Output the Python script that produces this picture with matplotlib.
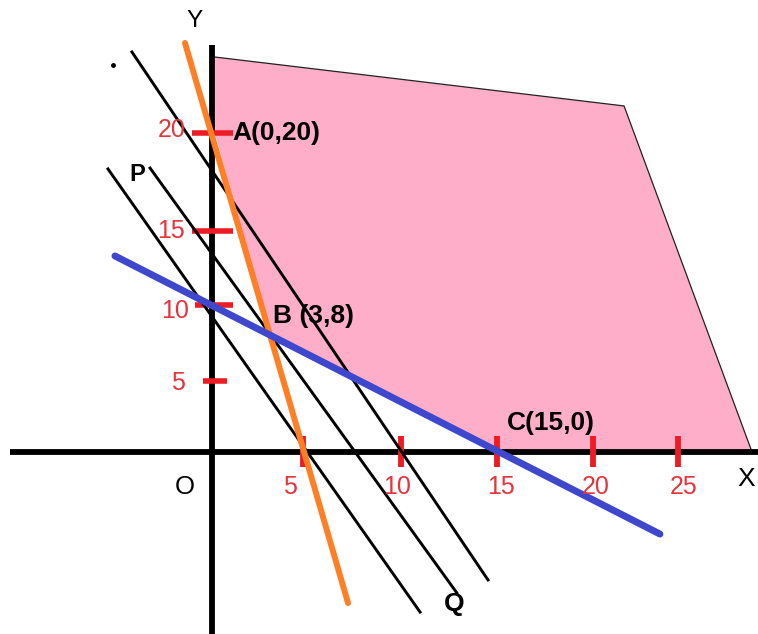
# lpp_graph.py

import matplotlib
matplotlib.use('Agg')
import matplotlib.pyplot as plt

# values (x units, y units; origin at O)
x_tick_pos = [4.72, 9.79, 14.77, 19.74, 24.15]
x_tick_labels = ['5', '10', '15', '20', '25']
y_tick_pos = [4.73, 9.8, 14.73, 21.27]
y_tick_labels = ['5', '10', '15', '20']
y_tick_left = [-0.47, -0.88, -1.04, -1.04]
y_tick_right = [0.78, 1.09, 1.09, 1.09]

orange_x = [-1.40, 7.05]
orange_y = [27.27, -10.07]
blue_x = [-5.03, 23.21]
blue_y = [13.07, -5.47]
iso_lines = {
    'line1': ([-4.15, 14.30], [26.67, -8.53]),
    'lineP': ([-3.21, 12.69], [18.93, -9.40]),
    'line3': ([-5.39, 10.78], [18.87, -10.67]),
}

region_x = [0.16, 21.35, 27.98, 14.77, 2.90, 0.16]
region_y = [26.33, 23.07, 0.0, 0.0, 7.93, 21.27]

PINK = '#ffaec9'
RED = '#ed1c24'
RED_TEXT = '#e5343c'
ORANGE = '#ff7f27'
BLUE = '#3f48cc'


def draw_region(ax):
    """Shaded feasible region with thin outline on the open sides."""
    ax.fill(region_x, region_y, color=PINK, lw=0, zorder=1)
    ax.plot(region_x[:3], region_y[:3], color='#222222', lw=0.9, zorder=1.5)


def draw_axes(ax):
    ax.plot([-10.47, 28.6], [0, 0], color='black', lw=4.2, zorder=2,
            solid_capstyle='butt')
    ax.plot([0, 0], [27.1, -13], color='black', lw=4.2, zorder=2,
            solid_capstyle='butt')
    for xp in x_tick_pos:
        ax.plot([xp, xp], [-1.0, 1.1], color=RED, lw=4.2, zorder=3,
                solid_capstyle='butt')
    for yp, l, r in zip(y_tick_pos, y_tick_left, y_tick_right):
        ax.plot([l, r], [yp, yp], color=RED, lw=4.0, zorder=3,
                solid_capstyle='butt')


def draw_lines(ax):
    for xs, ys in iso_lines.values():
        ax.plot(xs, ys, color='black', lw=2.1, zorder=4)
    ax.plot(orange_x, orange_y, color=ORANGE, lw=4.3, zorder=5,
            solid_capstyle='round')
    ax.plot(blue_x, blue_y, color=BLUE, lw=5.0, zorder=6,
            solid_capstyle='round')
    ax.plot([-5.13], [25.8], 'o', color='black', ms=2.5, zorder=4)


def draw_labels(ax):
    fam = 'Liberation Sans'
    for xp, lab in zip([4.04, 9.59, 14.97, 19.90, 24.46], x_tick_labels):
        ax.text(xp, -2.35, lab, color=RED_TEXT, ha='center', va='center',
                family=fam, fontsize=18, zorder=7)
    for (xp, yp), lab in zip([(-1.76, 4.6), (-1.92, 9.4), (-2.12, 14.73),
                              (-2.07, 21.47)], y_tick_labels):
        ax.text(xp, yp, lab, color=RED_TEXT, ha='center', va='center',
                family=fam, fontsize=18, zorder=7)
    ax.text(-0.88, 28.73, 'Y', ha='center', va='center', family=fam, fontsize=17.5)
    ax.text(27.67, -1.8, 'X', ha='center', va='center', family=fam, fontsize=19)
    ax.text(-1.40, -2.33, 'O', ha='center', va='center', family=fam, fontsize=18.5)
    bold = dict(family=fam, fontweight='bold', zorder=7, va='center')
    ax.text(1.04, 21.27, 'A(0,20)', ha='left', fontsize=19, **bold)
    ax.text(3.16, 9.07, 'B (3,8)', ha='left', fontsize=19, **bold)
    ax.text(15.28, 1.93, 'C(15,0)', ha='left', fontsize=19, **bold)
    ax.text(-3.89, 18.47, 'P', ha='center', fontsize=17, **bold)
    ax.text(12.54, -10.1, 'Q', ha='center', fontsize=19, **bold)


def main():
    fig = plt.figure(figsize=(7.58, 6.34), dpi=100)
    ax = fig.add_axes([0, 0, 1, 1])
    ax.set_xlim(-212 / 19.3, 546 / 19.3)
    ax.set_ylim(-182 / 15, 452 / 15)
    ax.axis('off')

    draw_region(ax)
    draw_axes(ax)
    draw_lines(ax)
    draw_labels(ax)

    fig.savefig('out.png', dpi=100)


if __name__ == '__main__':
    main()
